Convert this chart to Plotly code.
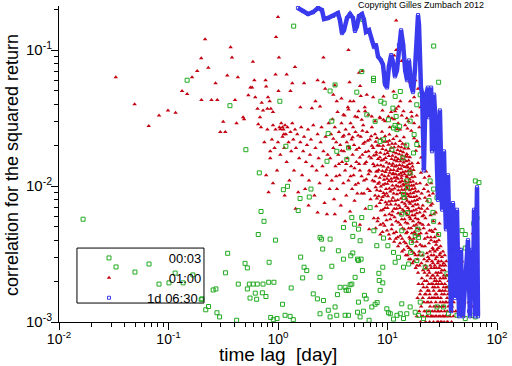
import plotly.graph_objects as go

# ---------------- data ----------------
green_pts = [
    (0.0166,0.0057),(0.148,0.060),(0.364,0.039),(0.509,0.0185),(0.675,0.0125),(1.39,0.150),
    (1.04,0.042),(1.18,0.0196),(1.12,0.0094),(1.22,0.00995),(1.59,0.0081),(1.53,0.0066),
    (1.93,0.0083),(2.0,0.0095),(0.70,0.0065),(0.745,0.0055),(0.66,0.0044),(0.95,0.0040),
    (0.347,0.0032),(0.50,0.0027),(0.525,0.0025),(0.332,0.0023),(0.434,0.0019),(0.547,0.0019),
    (0.594,0.0019),(0.647,0.0019),(0.73,0.0019),(0.822,0.00196),(0.918,0.00196),(0.83,0.00275),
    (0.62,0.00163),(0.72,0.00164),(0.776,0.00154),(0.638,0.00147),(0.555,0.0015),(0.525,0.00175),
    (0.199,0.00146),(0.219,0.00123),(0.232,0.0013),(0.256,0.00172),(0.271,0.00175),(0.277,0.00117),
    (0.293,0.00109),(0.419,0.00103),(0.857,0.00108),(0.906,0.00104),(0.98,0.00106),(1.10,0.00135),
    (1.16,0.00112),(1.29,0.0011),(1.38,0.00104),(1.32,0.00178),(1.61,0.0030),(1.73,0.00253),
    (1.83,0.00239),(1.68,0.00211),(2.10,0.00161),(2.29,0.00148),(2.42,0.00115),(2.60,0.00144),
    (2.88,0.00122),(2.99,0.00109),(3.32,0.00129),(3.44,0.00112),(2.42,0.00213),(3.10,0.00257),
    (3.49,0.00159),(3.69,0.0018),(3.96,0.0029),(4.10,0.0018),(4.19,0.00171),(4.40,0.00171),
    (4.56,0.00188),(4.72,0.0019),(4.10,0.00112),(4.40,0.00112),(4.62,0.00307),(4.82,0.00322),
    (4.82,0.00426),(5.06,0.00213),(5.32,0.0029),(5.43,0.00283),(5.74,0.0029),(5.90,0.00239),
    (6.16,0.00157),(6.38,0.00148),(5.43,0.0014),(5.32,0.00118),(5.62,0.00109),(6.03,0.0012),
    (6.79,0.00103),(7.19,0.00129),(7.71,0.00135),(8.04,0.00139),(8.57,0.00171),(8.34,0.00228),
    (9.06,0.00253),(8.4,0.00202),(9.06,0.00194),(9.86,0.00125),(10.2,0.00117),(10.6,0.00115),
    (11.35,0.00105),(12.2,0.00112),(13.1,0.00115),(13.5,0.00136),(14.0,0.00106),(15.0,0.00115),
    (16.1,0.00129),(17.9,0.00118),(19.2,0.00112),(2.42,0.00419),(2.50,0.00407),(2.56,0.00344),
    (2.99,0.00407),(3.56,0.00334),(3.96,0.00496),(4.72,0.00586),(4.99,0.00524),(5.43,0.00482),
    (5.62,0.00396),(5.82,0.00586),(6.94,0.00694),(7.50,0.00469),(7.98,0.00364),(9.19,0.00414),
    (10.07,0.00364),(11.35,0.00325),(11.75,0.00275),(12.6,0.00299),(13.5,0.00469),(14.0,0.00253),
    (15.6,0.00267),(16.3,0.00325),(16.5,0.00385),(17.9,0.00431),(18.9,0.00482),(19.2,0.00419),
    (15.2,0.00638),(13.5,0.00621),(14.2,0.00822),(14.0,0.00869),(15.2,0.00972),(16.1,0.0125),
    (17.3,0.0175),(18.5,0.0202),(17.5,0.0239),(18.5,0.0396),(15.0,0.020),(13.8,0.0161),
    (12.2,0.026),(12.9,0.0275),(12.0,0.0325),(11.2,0.0374),(8.69,0.042),(9.33,0.0407),
    (13.1,0.0496),(11.75,0.0456),(9.53,0.0587),(7.45,0.0597),(5.82,0.0694),(5.24,0.049),
    (6.47,0.0334),(7.71,0.0299),(8.57,0.0213),(10.2,0.0307),(11.35,0.0267),(5.94,0.168),
    (7.45,0.062),(3.32,0.0554),(2.99,0.050),(3.10,0.030),(2.87,0.0243),(4.25,0.0157),
    (4.40,0.0191),(3.44,0.018),(2.80,0.0152),(9.19,0.0219),(10.96,0.0185),(11.7,0.0279),
    (15.0,0.0109),(16.1,0.030),(19.9,0.0469),(26.4,0.107),(29.3,0.058),(27.3,0.0207),
    (24.5,0.0109),(26.4,0.0095),(24.0,0.0078),(26.0,0.0064),(28.3,0.0082),(30.3,0.0089),
    (26.4,0.0055),(29.3,0.0044),(47.9,0.0047),(51.3,0.0035),(46.2,0.0028),(53.2,0.0024),
    (57.0,0.0021),(51.3,0.0044),(61.2,0.0053),(63.4,0.0109),(68.4,0.0106),(65.6,0.0058),
    (28.3,0.00129),(32.5,0.00129),(36.1,0.00115),(43.1,0.00112),(46.2,0.00118),(51.3,0.00106),
    (59.0,0.00112),(63.4,0.00109),(23.7,0.00118),(21.3,0.00106),(37.4,0.0018),(34.9,0.00226),
    (19.9,0.0014),(18.5,0.00283),(20.6,0.00316),(22.1,0.00253),
    (0.0332,0.00254),(0.0494,0.00233),(0.0664,0.00267),(0.0819,0.0019),(0.101,0.00194),
    (0.115,0.00229),(0.136,0.00194),(0.167,0.00222),(0.202,0.00148),
]

red_sparse = [
    (0.033,0.063),(0.049,0.040),(0.066,0.0276),(0.082,0.033),(0.099,0.036),(0.116,0.0346),
    (0.133,0.050),(0.148,0.0476),(0.164,0.063),(0.183,0.070),(0.199,0.087),(0.216,0.120),
    (0.231,0.074),(0.2,0.043),(0.247,0.043),(0.279,0.043),(0.269,0.057),(0.297,0.025),
    (0.33,0.025),(0.344,0.065),(0.316,0.0297),(0.369,0.105),(0.38,0.088),(0.405,0.043),
    (0.418,0.029),(0.43,0.063),(0.48,0.032),(0.49,0.031),(0.536,0.0466),(0.56,0.053),
    (0.58,0.053),(0.59,0.082),(0.608,0.06),(0.62,0.045),(0.65,0.037),(0.66,0.0285),
    (0.685,0.032),(0.71,0.041),(0.73,0.036),(0.77,0.06),(0.78,0.054),(0.80,0.037),
    (0.81,0.045),(0.84,0.042),(0.86,0.037),(0.90,0.035),(0.95,0.066),(0.96,0.125),
    (1.0,0.175),(1.02,0.088),(1.01,0.050),(1.05,0.0262),(1.1,0.027),(1.13,0.024),
    (1.2,0.066),(1.3,0.050),(1.35,0.057),(1.43,0.075),(1.6,0.038),(2.3,0.06),(2.6,0.058),
    (2.6,0.088),(3.3,0.055),(4.4,0.1),(4.5,0.058),(5.5,0.068),(5.9,0.07),(12,0.165),
    (13.5,0.083),(11.5,0.091),(12,0.1),
    (1.73,0.057),(2.04,0.0374),(2.2,0.042),(2.42,0.0385),(2.7,0.052),(3.2,0.0469),
    (3.44,0.042),(3.96,0.0334),(4.4,0.0365),(4.56,0.042),(5.06,0.0325),(5.43,0.0355),
    (5.82,0.0307),(6.25,0.0355),(6.7,0.0334),(7.19,0.0325),(7.71,0.0299),(8.57,0.0315),
    (9.19,0.0307),(10.2,0.0325),(10.96,0.0315),(11.75,0.0355),(12.6,0.0385),(14.0,0.0355),
    (15.0,0.0315),(16.7,0.0325),(5.62,0.0543),(6.47,0.0469),(9.19,0.0456),(11.35,0.0496),
    (13.1,0.042),(16.1,0.042),(17.5,0.045),(19.0,0.052),(18.0,0.06),(20,0.038),(16,0.058),
    (0.7,0.027),(0.75,0.021),(0.8,0.026),(0.85,0.018),
]

red_mid = [
    (0.78,0.012),(0.82,0.009),(0.85,0.016),(0.88,0.022),(0.9,0.028),(0.93,0.019),(0.95,0.026),
    (0.98,0.013),(1.0,0.021),(1.03,0.027),(1.05,0.017),(1.07,0.029),(1.1,0.023),(1.12,0.026),
    (1.14,0.019),(1.16,0.028),(1.18,0.024),(1.2,0.015),(1.22,0.027),(1.25,0.021),(1.27,0.011),
    (1.3,0.025),(1.32,0.018),(1.35,0.029),(1.38,0.022),(1.4,0.013),(1.43,0.026),(1.46,0.019),
    (1.5,0.024),(1.53,0.009),(1.56,0.016),(1.6,0.021),(1.63,0.027),(1.66,0.012),(1.7,0.018),
    (1.73,0.023),(1.77,0.0095),(1.8,0.015),(1.84,0.02),(1.88,0.026),(1.92,0.011),(1.96,0.017),
    (2.0,0.022),(2.05,0.014),(2.1,0.028),(2.15,0.0085),(2.2,0.019),(2.25,0.013),(2.3,0.024),
    (2.35,0.016),(2.4,0.0105),(2.45,0.021),(2.5,0.027),(2.55,0.014),(2.6,0.018),(2.66,0.0075),
    (2.72,0.023),(2.78,0.012),(2.84,0.017),(2.9,0.029),(2.96,0.0095),(1.45,0.0068),(1.9,0.0072),
    (2.3,0.0064),(1.15,0.0085),(0.9,0.0105),(2.8,0.0062),
    (3.0,0.016),(3.05,0.024),(3.1,0.011),(3.15,0.031),(3.2,0.019),(3.25,0.008),(3.3,0.027),
    (3.35,0.014),(3.4,0.021),(3.45,0.0095),(3.5,0.035),(3.55,0.017),(3.6,0.025),(3.65,0.012),
    (3.7,0.02),(3.75,0.0072),(3.8,0.029),(3.85,0.015),(3.9,0.023),(3.95,0.0105),(4.0,0.018),
    (4.05,0.033),(4.1,0.013),(4.15,0.026),(4.2,0.0085),(4.25,0.021),(4.3,0.016),(4.35,0.038),
    (4.4,0.011),(4.45,0.024),(4.5,0.019),(4.55,0.0065),(4.6,0.029),(4.65,0.014),(4.7,0.022),
    (4.75,0.0095),(4.8,0.017),(4.85,0.027),(4.9,0.012),(4.95,0.02),(5.0,0.0078),(5.1,0.025),
    (5.2,0.015),(5.3,0.032),(5.4,0.0105),(5.5,0.019),(5.6,0.013),(5.7,0.023),(5.8,0.0088),
    (5.9,0.017),(6.0,0.028),(6.1,0.011),(6.2,0.021),(6.3,0.0068),(6.4,0.015),(6.5,0.025),
    (6.6,0.0095),(6.7,0.018),(6.8,0.013),(6.9,0.022),(7.0,0.008),(7.1,0.016),(7.2,0.027),
    (7.3,0.011),(7.4,0.019),(7.5,0.0058),(7.6,0.014),(7.7,0.024),(7.8,0.0098),(7.9,0.017),
    (3.3,0.0062),(4.1,0.0055),(5.6,0.0052),(6.8,0.0048),(4.9,0.042),(6.2,0.038),(7.4,0.045),
    (5.7,0.046),(3.8,0.044),
    (5.0,0.0135),(5.2,0.0185),(5.4,0.0235),(5.6,0.0162),(5.8,0.0118),(6.0,0.0205),(6.2,0.0146),
    (6.4,0.0112),(6.6,0.0215),(6.8,0.0165),(7.0,0.0128),(7.2,0.0198),(7.4,0.0145),(7.6,0.0108),
    (7.8,0.0212),(5.1,0.0102),(5.5,0.0145),(5.9,0.0255),(6.3,0.0178),(6.7,0.0122),(7.1,0.0232),
    (7.5,0.0168),(7.9,0.0128),(4.2,0.0145),(4.4,0.0195),(4.6,0.0118),(4.8,0.0228),(3.6,0.0145),
    (3.8,0.0182),(4.0,0.0235),(3.4,0.0118),(3.2,0.0223),(6.1,0.0088),(6.9,0.0092),(7.7,0.0085),
    (5.3,0.0088),
]

red_core = [
    (7.8,0.0049),(7.9,0.0071),(8.0,0.0093),(7.8,0.0118),(8.1,0.0142),(7.9,0.0177),(8.0,0.0226),
    (8.2,0.0058),(8.3,0.0084),(8.4,0.0106),(8.3,0.0131),(8.5,0.0163),(8.4,0.0198),(8.6,0.0044),
    (8.7,0.0066),(8.8,0.0079),(8.7,0.0099),(8.9,0.0121),(8.8,0.0154),(9.0,0.0187),(8.9,0.0251),
    (9.1,0.0053),(9.2,0.0089),(9.3,0.0111),(9.2,0.0139),(9.4,0.0171),(9.3,0.0212),(9.5,0.0061),
    (9.6,0.0076),(9.7,0.0095),(9.6,0.0127),(9.8,0.0149),(9.7,0.0183),(9.9,0.0047),(10.0,0.0069),
    (10.1,0.0084),(10.0,0.0104),(10.2,0.0119),(10.1,0.0137),(10.3,0.0166),(10.2,0.0201),
    (10.4,0.0239),(10.5,0.0041),(10.6,0.0057),(10.7,0.0073),(10.6,0.0091),(10.8,0.0113),
    (10.7,0.0131),(10.9,0.0158),(10.8,0.0191),(11.0,0.0052),(11.1,0.0065),(11.2,0.0082),
    (11.1,0.0101),(11.3,0.0124),(11.2,0.0146),(11.4,0.0177),(11.3,0.0222),(11.5,0.0039),
    (11.6,0.0059),(11.7,0.0078),(11.6,0.0096),(11.8,0.0109),(11.7,0.0139),(11.9,0.0163),
    (11.8,0.0205),(12.0,0.0046),(12.1,0.0068),(12.2,0.0087),(12.1,0.0116),(12.3,0.0129),
    (12.2,0.0152),(12.4,0.0184),(12.3,0.0262),(12.5,0.0036),(12.6,0.0054),(12.7,0.0072),
    (12.6,0.0093),(12.8,0.0106),(12.7,0.0121),(12.9,0.0143),(12.8,0.0171),(13.0,0.0214),
    (13.1,0.0043),(13.2,0.0062),(13.3,0.0081),(13.2,0.0099),(13.4,0.0114),(13.3,0.0134),
    (13.5,0.0159),(13.4,0.0193),(13.6,0.0033),(13.7,0.0049),(13.8,0.0067),(13.7,0.0088),
    (13.9,0.0103),(13.8,0.0127),(14.0,0.0149),(13.9,0.0177),(14.1,0.0228),(14.2,0.0039),
    (14.3,0.0057),(14.4,0.0074),(14.3,0.0094),(14.5,0.0109),(14.4,0.0138),(14.6,0.0165),
    (14.5,0.0202),(14.7,0.0031),(14.8,0.0045),(14.9,0.0063),(14.8,0.0081),(15.0,0.0098),
    (14.9,0.0118),(15.1,0.0141),(15.0,0.0172),(15.2,0.0036),(15.3,0.0053),(15.4,0.0069),
    (15.3,0.0087),(15.5,0.0106),(15.4,0.0129),(15.6,0.0154),(15.5,0.0189),(15.7,0.0029),
    (15.8,0.0042),(15.9,0.0059),(15.8,0.0076),(16.0,0.0093),(15.9,0.0112),(16.1,0.0134),
    (16.0,0.0163),(16.3,0.0034),(16.4,0.0049),(16.5,0.0065),(16.4,0.0083),(16.6,0.0101),
    (16.5,0.0122),(16.7,0.0147),(16.9,0.0027),(17.0,0.0039),(17.1,0.0055),(17.0,0.0071),
    (17.2,0.0089),(17.1,0.0108),(17.3,0.0131),(17.5,0.0032),(17.6,0.0046),(17.7,0.0061),
    (17.6,0.0078),(17.8,0.0096),(17.7,0.0117),(18.1,0.0025),(18.2,0.0036),(18.3,0.0052),
    (18.2,0.0067),(18.4,0.0084),(18.3,0.0104),(18.8,0.0029),(18.9,0.0043),(19.0,0.0057),
    (18.9,0.0073),(19.1,0.0091),(19.5,0.0033),(19.6,0.0048),(19.7,0.0064),(19.6,0.0081),
    (19.8,0.0105),(20.5,0.0088),(21.0,0.0072),(21.5,0.0095),(22.0,0.0082),(22.8,0.0102),
    (23.5,0.0091),(24.0,0.0118),(25.0,0.0105),(26.0,0.0088),(20.2,0.0125),(21.2,0.0135),
    (22.5,0.0128),(19.0,0.0148),(20.3,0.0162),(21.8,0.0115),(18.2,0.0182),(19.5,0.0195),
    (16.5,0.0255),(17.5,0.0225),(15.2,0.0265),(18.6,0.0214),(20.8,0.006),(21.9,0.0065),
    (23.0,0.0078),(24.8,0.0072),(26.5,0.0062),
    (10.5,0.027),(11.5,0.031),(12.5,0.029),(13.5,0.033),(14.5,0.028),(9.5,0.03),(10.8,0.035),
    (12.0,0.037),(13.0,0.026),(15.5,0.03),(16.5,0.035),(17.5,0.029),(18.5,0.033),(19.5,0.027),
    (8.5,0.032),(9.0,0.036),
]

red_core2 = [
    (8.1,0.0055),(8.0,0.0081),(8.2,0.0104),(8.1,0.0128),(8.2,0.0158),(8.1,0.0199),(8.6,0.0052),
    (8.5,0.0075),(8.6,0.0092),(8.5,0.0115),(8.7,0.0142),(8.6,0.0176),(8.7,0.0222),(9.0,0.0046),
    (9.1,0.0067),(9.0,0.0083),(9.1,0.0102),(9.0,0.0129),(9.2,0.0156),(9.1,0.0198),(9.4,0.0051),
    (9.5,0.0069),(9.4,0.0085),(9.5,0.0104),(9.4,0.0118),(9.6,0.0161),(9.5,0.0232),(9.8,0.0056),
    (9.9,0.0073),(9.8,0.0088),(9.9,0.0113),(9.8,0.0132),(10.0,0.0175),(9.9,0.0212),(10.3,0.0044),
    (10.4,0.0062),(10.3,0.0077),(10.4,0.0096),(10.3,0.0109),(10.5,0.0125),(10.4,0.0146),
    (10.5,0.0181),(10.4,0.0215),(10.9,0.0048),(11.0,0.0061),(10.9,0.0078),(11.0,0.0094),
    (10.9,0.0108),(11.1,0.0122),(11.0,0.0141),(11.1,0.0167),(11.0,0.0205),(11.4,0.0045),
    (11.5,0.0068),(11.4,0.0088),(11.5,0.0115),(11.4,0.0131),(11.6,0.0155),(11.5,0.0193),
    (11.9,0.0041),(12.0,0.0055),(11.9,0.0073),(12.0,0.0101),(11.9,0.0122),(12.1,0.0141),
    (12.0,0.0174),(12.1,0.0232),(12.4,0.0042),(12.5,0.0063),(12.4,0.0079),(12.5,0.0099),
    (12.4,0.0113),(12.6,0.0134),(12.5,0.0158),(12.6,0.0195),(13.0,0.0038),(13.1,0.0052),
    (13.0,0.0069),(13.1,0.0089),(13.0,0.0107),(13.2,0.0124),(13.1,0.0152),(13.2,0.0181),
    (13.6,0.0041),(13.5,0.0057),(13.6,0.0076),(13.5,0.0094),(13.6,0.0109),(13.5,0.0119),
    (13.7,0.0141),(13.6,0.0168),(13.7,0.0205),(14.1,0.0034),(14.2,0.0048),(14.1,0.0065),
    (14.2,0.0084),(14.1,0.0101),(14.3,0.0122),(14.2,0.0157),(14.3,0.0189),(14.7,0.0038),
    (14.6,0.0054),(14.7,0.0071),(14.6,0.0089),(14.7,0.0104),(14.6,0.0128),(14.8,0.0152),
    (15.2,0.0031),(15.1,0.0046),(15.2,0.0061),(15.1,0.0078),(15.2,0.0095),(15.1,0.0116),
    (15.3,0.0137),(15.2,0.0165),(15.7,0.0035),(15.6,0.0049),(15.7,0.0066),(15.6,0.0084),
    (15.7,0.0101),(15.6,0.0121),(15.8,0.0145),(16.2,0.0029),(16.1,0.0041),(16.2,0.0057),
    (16.1,0.0074),(16.2,0.0088),(16.1,0.0107),(16.3,0.0128),(16.8,0.0033),(16.7,0.0045),
    (16.8,0.0061),(16.7,0.0077),(16.8,0.0095),(16.7,0.0116),(16.9,0.0139),(17.4,0.0028),
    (17.3,0.0041),(17.4,0.0051),(17.3,0.0066),(17.4,0.0083),(17.3,0.0101),(18.0,0.0031),
    (17.9,0.0044),(18.0,0.0058),(17.9,0.0073),(18.0,0.0091),(18.6,0.0026),(18.5,0.0039),
    (18.6,0.0049),(18.5,0.0063),(18.6,0.0079),(19.2,0.0031),(19.3,0.0044),(19.2,0.0054),
    (19.3,0.0069),(19.9,0.0037),(20.0,0.0053),(20.1,0.0045),(20.4,0.0068),(21.0,0.0052),
    (21.3,0.0061),
]

red_tail = [
    (18.5,0.0011),(18.8,0.0015),(19.2,0.0019),(19.0,0.0023),(20.0,0.0010),(20.3,0.0013),
    (20.1,0.0017),(20.6,0.0021),(20.4,0.0027),(20.8,0.0036),(21.2,0.0011),(21.5,0.0014),
    (21.3,0.0018),(21.8,0.0023),(21.6,0.0029),(21.9,0.0041),(21.4,0.0049),(22.3,0.0010),
    (22.6,0.0012),(22.4,0.0016),(22.8,0.0020),(22.5,0.0025),(22.9,0.0032),(22.7,0.0045),
    (22.2,0.0058),(23.3,0.0011),(23.5,0.0014),(23.2,0.0017),(23.8,0.0019),(23.6,0.0024),
    (23.4,0.0030),(23.9,0.0038),(23.7,0.0052),(23.1,0.0068),(24.2,0.0010),(24.5,0.0013),
    (24.3,0.0016),(24.8,0.0021),(24.6,0.0026),(24.4,0.0033),(24.9,0.0042),(24.7,0.0061),
    (24.1,0.0085),(25.3,0.0011),(25.6,0.0012),(25.4,0.0015),(25.9,0.0018),(25.7,0.0022),
    (25.5,0.0028),(25.8,0.0035),(25.2,0.0047),(25.6,0.0074),(26.3,0.0010),(26.6,0.0013),
    (26.4,0.0017),(26.9,0.0020),(26.7,0.0025),(26.5,0.0031),(26.8,0.0039),(26.2,0.0055),
    (27.3,0.0011),(27.6,0.0014),(27.4,0.0016),(27.9,0.0019),(27.7,0.0023),(27.5,0.0029),
    (27.8,0.0037),(27.2,0.0048),(27.6,0.0064),(28.4,0.0010),(28.7,0.0012),(28.5,0.0015),
    (28.9,0.0018),(28.6,0.0022),(28.8,0.0027),(28.3,0.0034),(28.7,0.0044),(29.5,0.0011),
    (29.8,0.0013),(29.6,0.0017),(30.0,0.0020),(29.7,0.0025),(29.9,0.0031),(29.4,0.0040),
    (29.8,0.0053),(30.6,0.0010),(30.9,0.0012),(30.7,0.0015),(31.1,0.0019),(30.8,0.0023),
    (31.0,0.0028),(30.5,0.0036),(31.7,0.0011),(32.0,0.0014),(31.8,0.0017),(32.2,0.0021),
    (31.9,0.0026),(32.1,0.0033),(32.9,0.0010),(33.2,0.0012),(33.0,0.0016),(33.4,0.0019),
    (33.1,0.0024),(33.3,0.0031),(34.2,0.0011),(34.5,0.0014),(34.3,0.0018),(34.7,0.0022),
    (34.4,0.0028),(35.6,0.0010),(35.9,0.0013),(35.7,0.0016),(36.1,0.0020),(37.1,0.0011),
    (37.4,0.0015),(37.2,0.0018),(38.5,0.0010),(38.8,0.0013),(38.6,0.0017),(39.9,0.0011),
    (40.2,0.0014),
    (42,0.0012),(44,0.0021),(46,0.0016),(48,0.0028),(50,0.0011),(52,0.0024),(55,0.0014),
    (57,0.0019),(59,0.0013),(61,0.0031),(63,0.0017),(65,0.0022),(67,0.0012),(45,0.0035),
    (53,0.0036),(60,0.0045),(41,0.0026),(66,0.0042),(58,0.0025),(49,0.0019),
]

red_tail2 = [
    (19.5,0.0012),(19.8,0.0016),(19.6,0.0026),(20.6,0.0011),(21.0,0.0015),(20.8,0.0019),
    (21.1,0.0024),(20.9,0.0031),(21.7,0.0012),(22.0,0.0016),(21.8,0.0020),(22.1,0.0026),
    (22.0,0.0036),(22.8,0.0011),(23.0,0.0014),(22.9,0.0018),(23.1,0.0022),(23.0,0.0028),
    (23.2,0.0042),(23.9,0.0012),(24.0,0.0015),(23.9,0.0017),(24.1,0.0023),(24.0,0.0029),
    (24.2,0.0047),(24.9,0.0011),(25.0,0.0014),(25.1,0.0019),(25.0,0.0025),(25.1,0.0031),
    (25.0,0.0040),(26.0,0.0011),(26.1,0.0015),(26.0,0.0019),(26.1,0.0022),(26.0,0.0027),
    (26.1,0.0034),(26.0,0.0046),(27.0,0.0012),(27.1,0.0015),(27.0,0.0018),(27.1,0.0021),
    (27.0,0.0026),(27.1,0.0033),(27.0,0.0042),(28.0,0.0011),(28.1,0.0013),(28.0,0.0016),
    (28.1,0.0020),(28.0,0.0025),(28.1,0.0030),(28.0,0.0039),(29.1,0.0010),(29.2,0.0012),
    (29.1,0.0015),(29.2,0.0019),(29.1,0.0023),(29.2,0.0028),(29.1,0.0035),(30.2,0.0011),
    (30.3,0.0014),(30.2,0.0017),(30.3,0.0021),(30.2,0.0026),(30.3,0.0032),(31.3,0.0010),
    (31.4,0.0013),(31.3,0.0016),(31.4,0.0019),(31.3,0.0024),(31.4,0.0030),(32.5,0.0011),
    (32.6,0.0013),(32.5,0.0018),(32.6,0.0022),(32.5,0.0027),(33.7,0.0011),(33.8,0.0014),
    (33.7,0.0017),(33.8,0.0021),(33.7,0.0026),(35.0,0.0010),(35.1,0.0012),(35.0,0.0015),
    (35.1,0.0018),(35.0,0.0022),(36.5,0.0011),(36.6,0.0014),(36.5,0.0017),(37.8,0.0012),
    (37.9,0.0015),(39.2,0.0012),(39.3,0.0016),
]

blue_pts = [
    (1.52,0.204),(1.69,0.194),(1.88,0.184),(2.09,0.19),(2.32,0.204),(2.52,0.197),(2.63,0.169),
    (2.86,0.172),(3.18,0.178),(3.53,0.187),(3.68,0.166),(3.84,0.133),(4.01,0.14),(4.27,0.172),
    (4.55,0.184),(4.84,0.172),(5.05,0.138),(5.26,0.15),(5.49,0.178),(5.85,0.184),(6.1,0.166),
    (6.36,0.136),(6.78,0.14),(7.21,0.118),(7.53,0.105),(7.85,0.109),(8.19,0.09),(8.73,0.084),
    (9.1,0.078),(9.49,0.056),(9.89,0.053),(10.3,0.076),(10.8,0.092),(11.2,0.082),(11.7,0.064),
    (12.2,0.071),(12.7,0.109),(13.3,0.14),(13.9,0.109),(14.5,0.071),(15.1,0.06),(15.7,0.084),
    (16.4,0.055),(17.1,0.049),(17.8,0.071),(18.6,0.129),(19.0,0.181),(19.4,0.153),(19.8,0.084),
    (20.2,0.053),(20.7,0.048),(21.1,0.026),(21.5,0.013),(22.0,0.031),(22.5,0.047),(23.4,0.053),
    (23.9,0.032),(24.4,0.043),(25.0,0.053),(25.5,0.018),(26.0,0.036),(26.6,0.047),(27.7,0.026),
    (28.3,0.013),(28.9,0.0079),(29.5,0.026),(30.1,0.036),(30.8,0.016),(31.5,0.0067),(32.1,0.013),
    (32.8,0.018),(33.5,0.0079),(34.2,0.0048),(34.9,0.011),(35.7,0.012),(36.5,0.0056),(37.2,0.0024),
    (38.0,0.0012),(38.8,0.0034),(39.6,0.0075),(40.5,0.0048),(41.3,0.0015),(42.2,0.004),
    (43.1,0.0067),(44.0,0.0029),(45.0,0.0011),(45.9,0.002),(46.9,0.0034),(47.9,0.0015),
    (48.9,0.0011),(54.3,0.004),(55.5,0.0012),(56.6,0.0011),(57.9,0.0024),(59.1,0.0034),
    (60.4,0.0015),(61.7,0.0067),(63.0,0.0011),(64.3,0.0067),(65.7,0.0098),(67.0,0.0011),
]

series_names = ["00:03", "01:00", "1d 06:30"]
x_ticks = [0.01, 0.1, 1, 10, 100]
x_ticktext = ["10<sup>-2</sup>", "10<sup>-1</sup>", "10<sup>0</sup>", "10<sup>1</sup>", "10<sup>2</sup>"]
y_ticks = [0.001, 0.01, 0.1]
y_ticktext = ["10<sup>-3</sup>", "10<sup>-2</sup>", "10<sup>-1</sup>"]
minor_mult = [2, 3, 4, 5, 6, 7, 8, 9]

# ---------------- figure ----------------
FONT = "Liberation Sans, Arial, Helvetica, sans-serif"
red_all = red_sparse + red_mid + red_core + red_core2 + red_tail + red_tail2
NB = "\u00a0"
BLUE = "#3a3aee"

fig = go.Figure()
fig.add_trace(go.Scatter(
    x=[p[0] for p in red_all], y=[p[1] for p in red_all], mode="markers",
    name=NB * 11 + series_names[1], legendrank=2,
    marker=dict(symbol="triangle-up", size=4, color="#c40010", line=dict(width=0))))
fig.add_trace(go.Scatter(
    x=[p[0] for p in green_pts], y=[p[1] for p in green_pts], mode="markers",
    name=NB * 11 + series_names[0], legendrank=1,
    marker=dict(symbol="square-open", size=4, color="#22aa22", line=dict(width=1, color="#22aa22"))))
fig.add_trace(go.Scatter(
    x=[p[0] for p in blue_pts], y=[p[1] for p in blue_pts], mode="lines",
    showlegend=False, hoverinfo="skip",
    line=dict(color=BLUE, width=4.5)))
fig.add_trace(go.Scatter(
    x=[p[0] for p in blue_pts], y=[p[1] for p in blue_pts], mode="markers",
    name=NB * 5 + series_names[2], legendrank=3,
    marker=dict(symbol="square-open", size=3, color=BLUE, line=dict(width=1, color=BLUE))))

minor_x = [m * d for d in [0.01, 0.1, 1, 10] for m in minor_mult]
minor_y = [m * d for d in [0.001, 0.01, 0.1] for m in minor_mult if m * d < 0.21]

axis_common = dict(
    type="log", showgrid=False, zeroline=False, showline=True, linecolor="black", linewidth=1,
    ticks="outside", ticklen=7, tickcolor="black", tickwidth=1, automargin=False,
)
fig.update_xaxes(
    **axis_common, range=[-2, 2], tickvals=x_ticks, ticktext=x_ticktext, ticklabelstandoff=-3,
    tickfont=dict(family=FONT, size=14, color="black"),
    minor=dict(tickvals=minor_x, ticks="outside", ticklen=4, tickcolor="black", showgrid=False),
)
fig.update_yaxes(
    **axis_common, range=[-3, -0.676], tickvals=y_ticks, ticktext=y_ticktext, ticklabelstandoff=-4,
    tickfont=dict(family=FONT, size=15, color="black"),
    minor=dict(tickvals=minor_y, ticks="outside", ticklen=4, tickcolor="black", showgrid=False),
)

fig.add_shape(type="rect", xref="paper", yref="paper", x0=0.041, x1=0.331, y0=0.060, y1=0.234,
              line=dict(color="black", width=1), fillcolor="rgba(0,0,0,0)")
fig.add_annotation(text="Copyright Gilles Zumbach 2012", xref="paper", yref="paper",
                   x=0.826, y=1.003, showarrow=False, xanchor="center", yanchor="middle",
                   font=dict(family=FONT, size=9, color="black"))
fig.add_annotation(text="time lag" + NB + " [day]", xref="paper", yref="paper",
                   x=0.5, y=-0.104, showarrow=False, xanchor="center", yanchor="middle",
                   font=dict(family=FONT, size=19, color="black"))
fig.add_annotation(text="correlation for the squared return", xref="paper", yref="paper",
                   x=-0.107, y=0.497, showarrow=False, xanchor="center", yanchor="middle",
                   textangle=-90, font=dict(family=FONT, size=18, color="black"))

fig.update_layout(
    width=512, height=366, autosize=False,
    margin=dict(l=59, r=15, t=6, b=44),
    paper_bgcolor="white", plot_bgcolor="white",
    showlegend=True,
    legend=dict(x=0.0685, y=0.25, xanchor="left", yanchor="top", bgcolor="rgba(0,0,0,0)",
                borderwidth=0, font=dict(family=FONT, size=13, color="black"),
                itemsizing="trace", tracegroupgap=0),
)

fig.write_html("out.html", config={"displayModeBar": False},
               post_script="document.body.style.margin='0px';")
